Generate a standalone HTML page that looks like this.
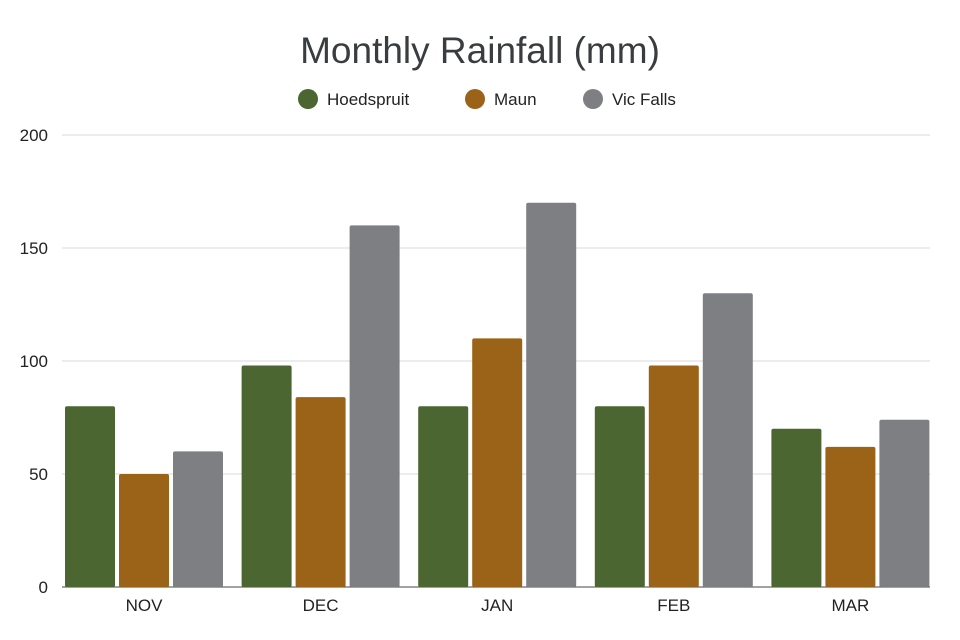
<!DOCTYPE html>
<html><head><meta charset="utf-8"><style>
body{margin:0;background:#fff;font-family:"Liberation Sans",sans-serif;}
svg{display:block}
</style></head><body>
<svg id="chart" width="960" height="640">
<text x="480" y="63" text-anchor="middle" font-size="37" fill="#3a3d40">Monthly Rainfall (mm)</text>
<g id="legend"></g>
<g id="grid"></g>
<g id="bars"></g>
<g id="xlabels"></g>
</svg>
<script>
const categories=["NOV","DEC","JAN","FEB","MAR"];
const hoedspruit=[80,98,80,80,70];
const maun=[50,84,110,98,62];
const vicFalls=[60,160,170,130,74];
const seriesNames=["Hoedspruit","Maun","Vic Falls"];
const yTicks=[0,50,100,150,200];
const colors=["#4b6630","#9b6318","#7e7f83"];
const series=[hoedspruit,maun,vicFalls];
const NS="http://www.w3.org/2000/svg";
const x0=62,x1=930,yBase=587,yTop=135,yMax=200;
const y=v=>yBase-(v/yMax)*(yBase-yTop);
const bx0=55.7,bx1=938.7;
const gw=(bx1-bx0)/categories.length;
function mk(t,a,p){const e=document.createElementNS(NS,t);for(const k in a)e.setAttribute(k,a[k]);p.appendChild(e);return e;}
const grid=document.getElementById('grid');
yTicks.forEach(t=>{
 const l=mk('line',{x1:x0,x2:x1,y1:y(t),y2:y(t),stroke:t===0?'#444':'#d9d9d9','stroke-width':1},grid);
 
 
 const tx=mk('text',{x:48,y:y(t)+6,'text-anchor':'end','font-size':17,fill:'#222'},grid);
 tx.textContent=t;
 
 
});
const bars=document.getElementById('bars'),xl=document.getElementById('xlabels');
const bw=50,gap=4;
categories.forEach((c,i)=>{
 const cx=bx0+gw*(i+0.5);
 const start=cx-(3*bw+2*gap)/2;
 series.forEach((s,j)=>{
  const v=s[i];
  const r=mk('rect',{x:start+j*(bw+gap),y:y(v),width:bw,height:yBase-y(v),fill:colors[j],rx:2},bars);
  
  
 });
 const t=mk('text',{x:cx,y:611,'text-anchor':'middle','font-size':17,fill:'#222'},xl);
 t.textContent=c;
 
 
});
const lg=document.getElementById('legend');
const lx=[308,475,593];
seriesNames.forEach((n,j)=>{
 const c=mk('circle',{cx:lx[j],cy:99,r:10,fill:colors[j]},lg);
 
 
 const t=mk('text',{x:lx[j]+19,y:105,'font-size':17,fill:'#222'},lg);
 t.textContent=n;
 
 
});
</script>
</body></html>
